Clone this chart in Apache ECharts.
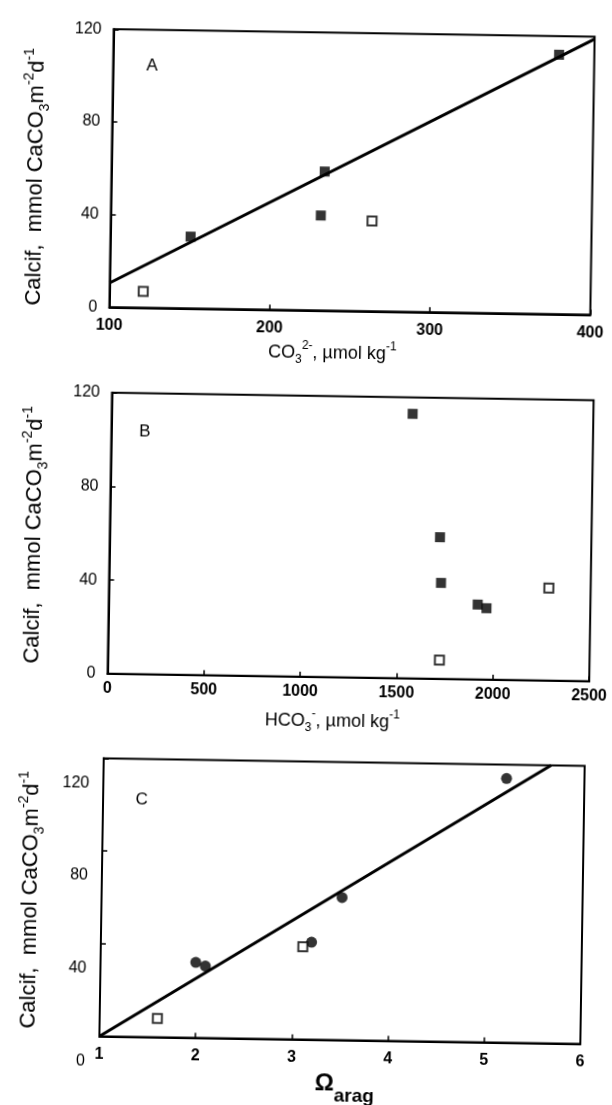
<!DOCTYPE html>
<html><head><meta charset="utf-8">
<script src="https://cdn.jsdelivr.net/npm/echarts@6/dist/echarts.min.js"></script>
<style>
html,body{margin:0;padding:0;background:#fff;overflow:hidden}
#c{width:612px;height:1105px;transform:rotate(0.9deg);transform-origin:306px 552.5px}
</style>
</head><body><div id="c"></div>
<script>
// ---- Panel A : Calcification vs CO3 2- ----
const aFilledCO3 = [150, 231, 233, 378];
const aFilledCalcif = [31, 41, 60, 112];
const aOpenCO3 = [121, 263];
const aOpenCalcif = [7, 39];
const aFitCO3 = [100, 400];
const aFitCalcif = [10.5, 119];
// ---- Panel B : Calcification vs HCO3- ----
const bFilledHCO3 = [1562, 1714, 1723, 1915, 1961];
const bFilledCalcif = [113, 60.5, 41, 32, 30.5];
const bOpenHCO3 = [1721, 2283];
const bOpenCalcif = [8, 39.5];
// ---- Panel C : Calcification vs Omega aragonite ----
const cFilledOmega = [1.99, 2.09, 3.19, 3.50, 5.19];
const cFilledCalcif = [32.5, 31, 42, 61.5, 114];
const cOpenOmega = [1.60, 3.10];
const cOpenCalcif = [8, 40];
const cFitOmega = [1, 5.65];
const cFitCalcif = [0, 120];
// ---- tick labels ----
const calcifTicks = [0, 40, 80, 120];
const co3Ticks = [100, 200, 300, 400];
const hco3Ticks = [0, 500, 1000, 1500, 2000, 2500];
const omegaTicks = [1, 2, 3, 4, 5, 6];
const panelLetters = ['A', 'B', 'C'];

const FONT = "'Liberation Sans', Arial, Helvetica, sans-serif";
const zip = (xs, ys) => xs.map((x, i) => [x, ys[i]]);
const rng = t => ({min: t[0], max: t[t.length - 1], interval: t[1] - t[0]});

const grids = [
  {left: 105.5, top: 32.3, width: 481, height: 278},
  {left: 109.5, top: 395.8, width: 482, height: 281},
  {left: 107, top: 761.4, width: 481, height: 278}
].map(g => Object.assign(g, {show: true, borderColor: '#000', borderWidth: 2, backgroundColor: 'transparent'}));

function xAx(i, ticks, margin) {
  return Object.assign({
    gridIndex: i, type: 'value',
    axisLine: {show: true, lineStyle: {color: '#000', width: 2}},
    axisTick: {show: true, inside: true, length: 5, lineStyle: {color: '#000', width: 1.5}},
    splitLine: {show: false},
    axisLabel: {color: '#000', fontSize: 16, fontWeight: 'bold', fontFamily: FONT, margin: margin,
                formatter: v => String(v)}
  }, rng(ticks));
}
function yAx(i, margin, shift) {
  return Object.assign({
    gridIndex: i, type: 'value',
    axisLine: {show: true, lineStyle: {color: '#000', width: 2}},
    axisTick: {show: true, inside: true, length: 5, lineStyle: {color: '#000', width: 1.5}},
    splitLine: {show: false},
    axisLabel: {color: '#000', fontSize: 16, fontFamily: FONT, margin: margin,
                formatter: v => '{s|' + v + '}',
                rich: {s: {fontSize: 16, fontFamily: FONT, color: '#000', padding: [shift * 2, 0, 0, 0]}}}
  }, rng(calcifTicks));
}

const filledSq = {type: 'scatter', symbol: 'rect', symbolSize: 10, itemStyle: {color: '#000'}, z: 5};
const openSq = {type: 'scatter', symbol: 'rect', symbolSize: 9, itemStyle: {color: '#fff', borderColor: '#000', borderWidth: 2}, z: 5};
const dot = {type: 'scatter', symbol: 'circle', symbolSize: 11, itemStyle: {color: '#000'}, z: 5};
const fit = {type: 'line', symbol: 'none', lineStyle: {color: '#000', width: 3}, z: 4, silent: true};

const titleRich = (base, small, lh) => ({
  b: {fontSize: base, lineHeight: lh, fontFamily: FONT, fill: '#000', verticalAlign: 'middle'},
  sub: {fontSize: small, lineHeight: small, fontFamily: FONT, fill: '#000', verticalAlign: 'bottom'},
  sup: {fontSize: small, lineHeight: small + 4, fontFamily: FONT, fill: '#000', verticalAlign: 'top'}
});
const yTitleText = '{b|Calcif,  mmol CaCO}{sub|3}{b|m}{sup|-2}{b|d}{sup|-1}';
function yTitle(x, y) {
  return {type: 'text', x: x, y: y, rotation: Math.PI / 2,
    style: {text: yTitleText, rich: titleRich(22, 14, 30), align: 'center', verticalAlign: 'middle'}};
}
function xTitle(x, y, text) {
  return {type: 'text', x: x, y: y,
    style: {text: text, rich: titleRich(18, 12, 26), align: 'left', verticalAlign: 'middle'}};
}
function letter(x, y, t) {
  return {type: 'text', x: x, y: y,
    style: {text: t, fontSize: 17, fontFamily: FONT, fill: '#000', align: 'center', verticalAlign: 'middle'}};
}

const chart = echarts.init(document.getElementById('c'), null, {renderer: 'canvas'});
chart.setOption({
  backgroundColor: '#fff',
  animation: false,
  grid: grids,
  xAxis: [xAx(0, co3Ticks, 10), xAx(1, hco3Ticks, 7), xAx(2, omegaTicks, 10)],
  yAxis: [yAx(0, 12, 0), yAx(1, 12, 0), yAx(2, 14, 25)],
  series: [
    Object.assign({}, fit, {xAxisIndex: 0, yAxisIndex: 0, data: zip(aFitCO3, aFitCalcif)}),
    Object.assign({}, filledSq, {xAxisIndex: 0, yAxisIndex: 0, data: zip(aFilledCO3, aFilledCalcif)}),
    Object.assign({}, openSq, {xAxisIndex: 0, yAxisIndex: 0, data: zip(aOpenCO3, aOpenCalcif)}),
    Object.assign({}, filledSq, {xAxisIndex: 1, yAxisIndex: 1, data: zip(bFilledHCO3, bFilledCalcif)}),
    Object.assign({}, openSq, {xAxisIndex: 1, yAxisIndex: 1, data: zip(bOpenHCO3, bOpenCalcif)}),
    Object.assign({}, fit, {xAxisIndex: 2, yAxisIndex: 2, data: zip(cFitOmega, cFitCalcif)}),
    Object.assign({}, dot, {xAxisIndex: 2, yAxisIndex: 2, data: zip(cFilledOmega, cFilledCalcif)}),
    Object.assign({}, openSq, {xAxisIndex: 2, yAxisIndex: 2, data: zip(cOpenOmega, cOpenCalcif)})
  ],
  graphic: [
    letter(144.4, 68.4, panelLetters[0]),
    letter(143, 434.5, panelLetters[1]),
    letter(145.6, 802, panelLetters[2]),
    yTitle(30, 181), yTitle(34, 539), yTitle(36, 904),
    xTitle(265, 352.6, '{b|CO}{sub|3}{sup|2-}{b|, µmol kg}{sup|-1}'),
    xTitle(267.6, 720.6, '{b|HCO}{sub|3}{sup|-}{b|, µmol kg}{sup|-1}'),
    {type: 'text', x: 323, y: 1083, style: {
      text: '{o|Ω}{s|arag}', align: 'left', verticalAlign: 'middle',
      rich: {o: {fontSize: 24, fontWeight: 'bold', lineHeight: 44, fontFamily: FONT, fill: '#000', verticalAlign: 'middle'},
             s: {fontSize: 19, fontWeight: 'bold', lineHeight: 19, fontFamily: FONT, fill: '#000', verticalAlign: 'bottom'}}}}
  ]
});
</script>
</body></html>
